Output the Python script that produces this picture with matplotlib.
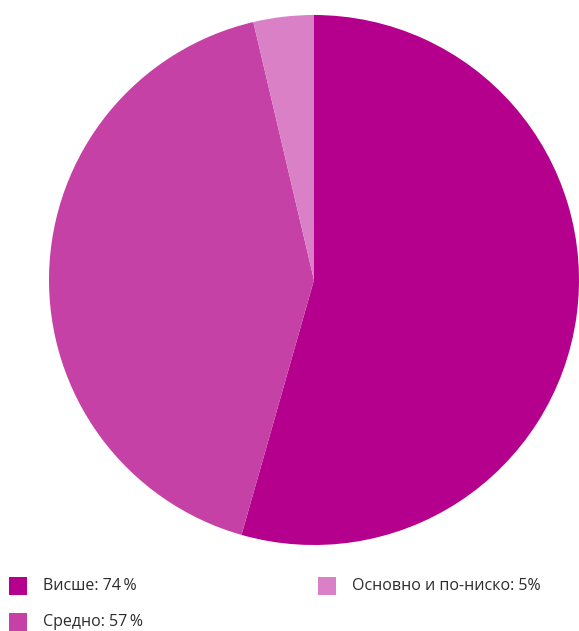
import matplotlib.pyplot as plt
from matplotlib.patches import Rectangle

labels = ["Висше", "Средно", "Основно и по-ниско"]
values = [74, 57, 5]
value_text = ["74\u2009%", "57\u2009%", "5%"]
colors = ["#B5008E", "#C541A6", "#DA80C6"]

plt.rcParams["font.family"] = ["Open Sans", "DejaVu Sans"]

W, H = 579, 631
fig = plt.figure(figsize=(W / 100, H / 100), dpi=100)

# pie area
ax = fig.add_axes([49 / W, 1 - 545 / H, 530 / W, 530 / H])
ax.pie(
    values,
    colors=colors,
    startangle=90,
    counterclock=False,
    wedgeprops=dict(linewidth=0),
)
ax.set_xlim(-1, 1)
ax.set_ylim(-1, 1)
ax.set_aspect("equal")
ax.axis("off")

# legend, two columns, filled column-wise
sq = 18
positions = [(9, 586), (9, 622), (318, 586)]
for (x, y), lab, val, col in zip(positions, labels, value_text, colors):
    fig.patches.append(
        Rectangle((x / W, 1 - (y + sq / 2) / H), sq / W, sq / H,
                  transform=fig.transFigure, facecolor=col, edgecolor="none")
    )
    fig.text((x + 34) / W, 1 - y / H, f"{lab}: {val}",
             ha="left", va="center", fontsize=11.5, color="#2b2b2b")

fig.savefig("out.png", dpi=100)
